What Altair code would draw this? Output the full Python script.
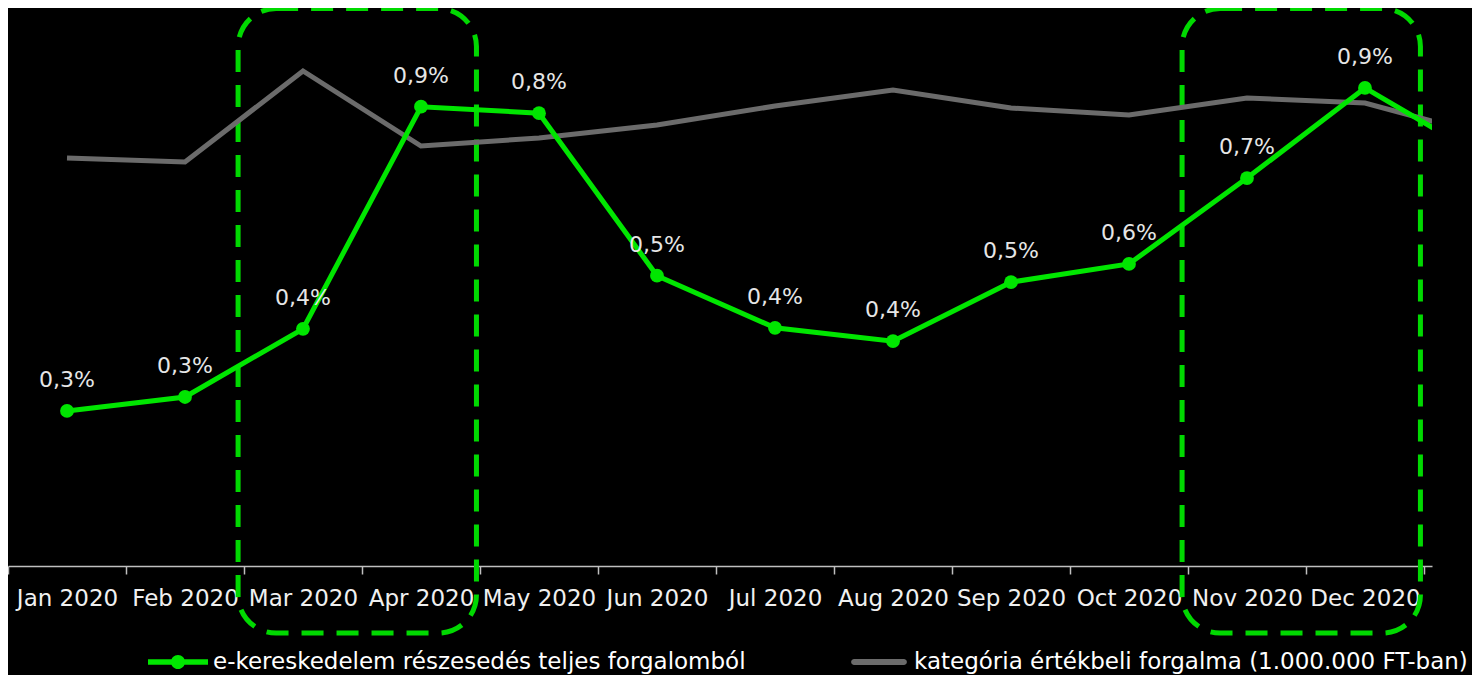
import json
import altair as alt
import pandas as pd

# ---------------- data ----------------
chart_title = "Teljes Magyarország kiskereskedelem"
months = ["Jan 2020", "Feb 2020", "Mar 2020", "Apr 2020", "May 2020", "Jun 2020",
          "Jul 2020", "Aug 2020", "Sep 2020", "Oct 2020", "Nov 2020", "Dec 2020",
          "Jan 2021"]
# e-commerce share of total turnover, in percent
ecommerce_share = [0.289, 0.315, 0.442, 0.856, 0.844, 0.541, 0.444, 0.419,
                   0.529, 0.563, 0.723, 0.891, 0.762]
# category turnover, million Ft
category_turnover = [877400, 868800, 1064500, 903200, 920400, 948400, 989200,
                     1023700, 984900, 969900, 1006500, 995700, 926900]
series_names = ["e-kereskedelem részesedés teljes forgalomból",
                "kategória értékbeli forgalma (1.000.000 FT-ban)"]
highlight_start = ["Mar 2020", "Nov 2020"]
highlight_end = ["Apr 2020", "Dec 2020"]

# ---------------- styling ----------------
GREEN = "#00e600"
BOX_GREEN = "#00d900"
GRAY = "#6b6b6b"
FONT = "DejaVu Sans"
AXIS_COL = "#bfbfbf"

df = pd.DataFrame({
    "idx": list(range(len(months))),
    "month": months,
    "share": ecommerce_share,
    "turnover": category_turnover,
})
df["label"] = [f"{v:.1f}".replace(".", ",") + "%" for v in ecommerce_share]
df_labels = df[df["idx"] < 12]

boxes = pd.DataFrame({
    "x": [months.index(m) - 0.55 for m in highlight_start],
    "x2": [months.index(m) + 0.47 for m in highlight_end],
    "top": [1.039, 1.039],
    "bottom": [-0.125, -0.125],
})

legend_df = pd.DataFrame({"series": series_names})

x_scale = alt.Scale(domain=[-0.5, 11.568], nice=False, zero=False)
share_scale = alt.Scale(domain=[0, 1.04], nice=False, zero=True)
turn_scale = alt.Scale(domain=[0, 1200000], nice=False, zero=True)

labels_js = json.dumps(months[:12] + [""], ensure_ascii=False)

x_axis = alt.Axis(
    values=[i - 0.5 for i in range(13)],
    labelExpr=f"{labels_js}[round(datum.value + 0.5)]",
    labelOffset=59, labelFlush=False, labelOverlap=False, labelBound=False,
    grid=False, title=None,
    domainColor=AXIS_COL, domainWidth=1.5,
    tickColor=AXIS_COL, tickWidth=1.5, tickSize=8,
    labelColor="#f0f0f0", labelFont=FONT, labelFontSize=23, labelPadding=13,
)

base = alt.Chart(df)

gray_line = base.mark_line(color=GRAY, strokeWidth=5, clip=True).encode(
    x=alt.X("idx:Q", scale=x_scale, axis=x_axis),
    y=alt.Y("turnover:Q", scale=turn_scale, axis=None),
)

green_line = base.mark_line(color=GREEN, strokeWidth=5, clip=True).encode(
    x=alt.X("idx:Q", scale=x_scale),
    y=alt.Y("share:Q", scale=share_scale, axis=None),
)

green_pts = base.mark_circle(color=GREEN, size=190, opacity=1, clip=True).encode(
    x=alt.X("idx:Q", scale=x_scale),
    y=alt.Y("share:Q", scale=share_scale, axis=None),
)

value_labels = alt.Chart(df_labels).mark_text(
    dy=-24, baseline="alphabetic", align="center", fontSize=22, font=FONT,
    color="#e6e6e6", clip=True,
).encode(
    x=alt.X("idx:Q", scale=x_scale),
    y=alt.Y("share:Q", scale=share_scale, axis=None),
    text="label:N",
)

box_layer = alt.Chart(boxes).mark_rect(
    filled=False, fillOpacity=0, stroke=BOX_GREEN, strokeWidth=5,
    strokeDash=[22, 13], cornerRadius=38, clip=False,
).encode(
    x=alt.X("x:Q", scale=x_scale),
    x2="x2:Q",
    y=alt.Y("top:Q", scale=share_scale, axis=None),
    y2="bottom:Q",
)

green_sym = ("M-1,-0.09L1,-0.09L1,0.09L-1,0.09Z"
             "M0.235,0A0.235,0.235 0 1,1 -0.235,0A0.235,0.235 0 1,1 0.235,0Z")
gray_sym = ("M-0.83,-0.1L0.83,-0.1A0.1,0.1 0 0,1 0.83,0.1"
            "L-0.83,0.1A0.1,0.1 0 0,1 -0.83,-0.1Z")

leg = alt.Legend(
    title=None, orient="none", legendX=140, legendY=624,
    direction="horizontal", columns=2, columnPadding=103, padding=0,
    symbolSize=3600, symbolOpacity=1, symbolStrokeWidth=0,
    labelFont=FONT, labelFontSize=23, labelColor="#ffffff", labelOffset=5,
    labelLimit=1000,
)

legend_layer = alt.Chart(legend_df).mark_point(filled=True, opacity=0).encode(
    x=alt.value(0),
    y=alt.value(0),
    color=alt.Color("series:N", scale=alt.Scale(domain=series_names, range=[GREEN, GRAY]), legend=leg),
    shape=alt.Shape("series:N", scale=alt.Scale(domain=series_names, range=[green_sym, gray_sym]), legend=leg),
)

chart = alt.layer(
    box_layer, gray_line, green_line, green_pts, value_labels, legend_layer
).resolve_scale(
    y="independent"
).properties(
    width=1424, height=558,
    background="black",
    padding={"left": 0, "top": 0, "right": 40, "bottom": 109},
    autosize=alt.AutoSizeParams(type="none"),
    title=alt.TitleParams(chart_title, color="#ffffff", font=FONT, fontSize=22,
                          fontWeight="normal", anchor="middle"),
).configure_view(stroke=None)

chart.save("out.html", embed_options={"renderer": "svg", "actions": False})
